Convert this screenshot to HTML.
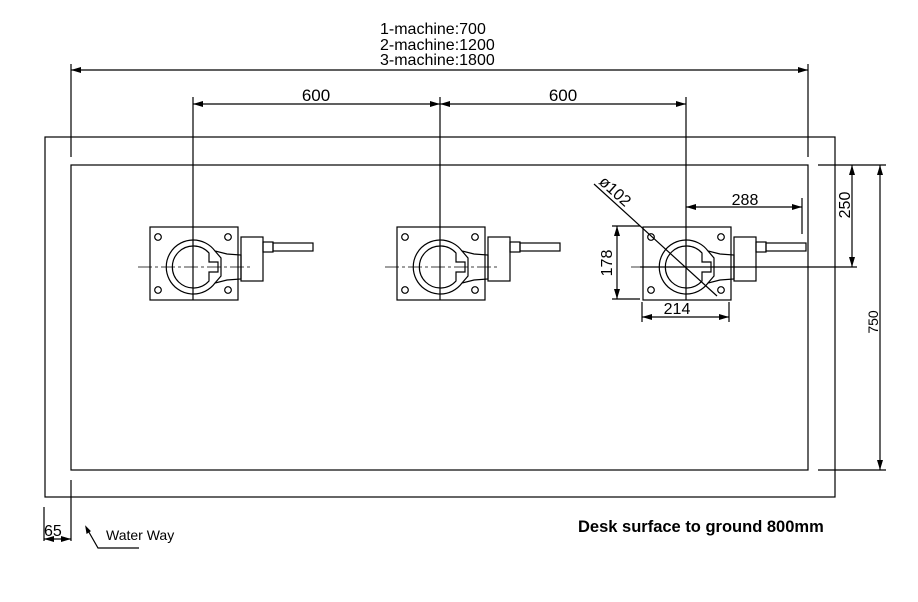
<!DOCTYPE html>
<html><head><meta charset="utf-8"><style>
html,body{margin:0;padding:0;background:#fff;}
svg{display:block;}
text{font-family:"Liberation Sans",sans-serif;fill:#000;}
</style></head><body>
<svg width="918" height="602" viewBox="0 0 918 602" xmlns="http://www.w3.org/2000/svg">
<defs>
<marker id="a" viewBox="0 0 10 6" refX="10" refY="3" markerWidth="10" markerHeight="6" orient="auto-start-reverse" markerUnits="userSpaceOnUse"><path d="M0,0 L10,3 L0,6 z" fill="#000"/></marker>
<g id="u" fill="none" stroke="#000" stroke-width="1.2">
<rect x="-43" y="-40" width="88" height="73"/>
<circle cx="-35" cy="-30" r="3.3"/><circle cx="35" cy="-30" r="3.3"/>
<circle cx="-35" cy="23" r="3.3"/><circle cx="35" cy="23" r="3.3"/>
<path d="M0,-27 A27,27 0 1,0 22,16 L34,13 L48,12 L48,-12 L34,-13 L22,-16 A27,27 0 0,0 0,-27"/>
<path d="M16,-14 A21,21 0 1,0 16,14 L16,5 L25,5 L25,-5 L16,-5 Z"/>
<path d="M22,-16 L28,-9 L28,9 L22,16"/>
<rect x="48" y="-30" width="22" height="44"/>
<rect x="70" y="-25" width="10" height="10"/>
<rect x="80" y="-24" width="40" height="8"/>
<line x1="-55" y1="0" x2="60" y2="0" stroke-dasharray="14,3,3,3" stroke-width="0.8"/>
</g>
</defs>
<g fill="none" stroke="#000" stroke-width="1.2">
<rect x="45" y="137" width="790" height="360"/>
<rect x="71" y="165" width="737" height="305"/>
<line x1="71" y1="64" x2="71" y2="157"/><line x1="808" y1="64" x2="808" y2="157"/>
<line x1="71" y1="70" x2="808" y2="70" marker-start="url(#a)" marker-end="url(#a)"/>
<line x1="193" y1="97" x2="193" y2="300"/><line x1="440" y1="97" x2="440" y2="300"/><line x1="686" y1="97" x2="686" y2="300"/>
<line x1="193" y1="104" x2="440" y2="104" marker-start="url(#a)" marker-end="url(#a)"/>
<line x1="440" y1="104" x2="686" y2="104" marker-start="url(#a)" marker-end="url(#a)"/>
<line x1="818" y1="165" x2="886" y2="165"/><line x1="818" y1="470" x2="886" y2="470"/>
<line x1="640" y1="267" x2="857" y2="267"/>
<line x1="852" y1="165" x2="852" y2="267" marker-start="url(#a)" marker-end="url(#a)"/>
<line x1="880" y1="165" x2="880" y2="470" marker-start="url(#a)" marker-end="url(#a)"/>
<line x1="802" y1="198" x2="802" y2="234"/>
<line x1="686" y1="207" x2="802" y2="207" marker-start="url(#a)" marker-end="url(#a)"/>
<line x1="612" y1="226" x2="640" y2="226"/><line x1="612" y1="299" x2="640" y2="299"/>
<line x1="617" y1="226" x2="617" y2="299" marker-start="url(#a)" marker-end="url(#a)"/>
<line x1="642" y1="302" x2="642" y2="322"/><line x1="729" y1="302" x2="729" y2="322"/>
<line x1="642" y1="317" x2="729" y2="317" marker-start="url(#a)" marker-end="url(#a)"/>
<line x1="594" y1="184" x2="717" y2="296"/>
<line x1="44" y1="507" x2="44" y2="541"/><line x1="71" y1="480" x2="71" y2="541"/>
<line x1="44" y1="539" x2="71" y2="539" marker-start="url(#a)" marker-end="url(#a)"/>
<polyline points="86,527 98,548 139,548"/>
<path d="M86,527 l1,6 l3,-2 z" fill="#000"/>
</g>
<use href="#u" x="193" y="267"/>
<use href="#u" x="440" y="267"/>
<use href="#u" x="686" y="267"/>
<text x="380" y="34" font-size="16">1-machine:700</text>
<text x="380" y="50" font-size="16">2-machine:1200</text>
<text x="380" y="65" font-size="16">3-machine:1800</text>
<text x="316" y="101" font-size="17" text-anchor="middle">600</text>
<text x="563" y="101" font-size="17" text-anchor="middle">600</text>
<text x="745" y="205" font-size="16" text-anchor="middle">288</text>
<text x="677" y="314" font-size="16" text-anchor="middle">214</text>
<text font-size="16" text-anchor="middle" transform="translate(612,263) rotate(-90)">178</text>
<text font-size="16" text-anchor="middle" transform="translate(850,205) rotate(-90)">250</text>
<text font-size="14" text-anchor="middle" transform="translate(878,322) rotate(-90)">750</text>
<text font-size="16" transform="translate(598,183) rotate(42)">ø102</text>
<text x="44" y="536" font-size="16">65</text>
<text x="106" y="540" font-size="14">Water Way</text>
<text x="578" y="532" font-size="16.5" font-weight="bold">Desk surface to ground 800mm</text>
</svg>
</body></html>
